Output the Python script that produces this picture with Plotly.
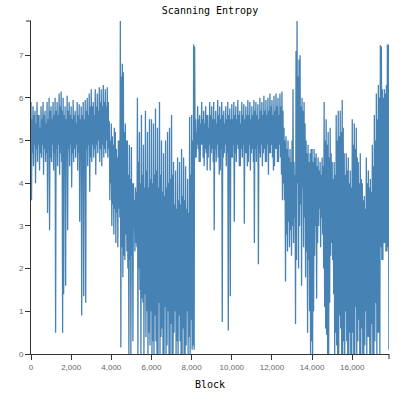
import plotly.graph_objects as go

TITLE = "Scanning Entropy"
X_TITLE = "Block"
BIN = 50  # each bin of 50 blocks contributes its high and its low reading

# ---- highest / lowest entropy read in each 50-block bin ----
high_a = [5.9, 5.5, 5.8, 5.6, 5.7, 5.4, 5.9, 5.6, 5.6, 5.3, 5.8, 5.5, 5.9, 5.6, 5.7, 5.4, 5.9, 5.5, 6.0, 5.7,
          5.8, 5.5, 5.9, 5.6, 6.0, 5.7, 5.9, 5.6, 6.1, 5.8, 6.15, 5.7, 6.0, 5.6, 5.8, 5.5, 6.05, 5.7, 5.9, 5.6,
          5.8, 5.5, 5.95, 5.6, 5.7, 5.4, 5.9, 5.6, 5.85, 5.5, 5.8, 5.6, 5.9, 5.5, 5.95, 5.7, 6.0, 5.6, 6.1, 5.8,
          6.2, 5.8, 5.9, 5.6, 6.2, 5.8, 6.1, 5.7, 6.25, 5.9, 6.2, 5.8, 6.3, 5.9, 6.2, 5.8, 6.25, 5.9]
low_a = [3.6, 4.7, 4.4, 4.9, 4.0, 4.8, 4.5, 4.9, 4.3, 4.7, 4.6, 4.9, 4.2, 4.8, 4.5, 4.7, 3.3, 4.8, 2.9, 4.6,
         4.5, 4.9, 4.3, 4.7, 0.5, 4.8, 4.4, 4.9, 4.2, 4.7, 4.5, 0.5, 1.4, 4.8, 1.6, 4.6, 2.9, 4.8, 4.4, 4.9,
         3.9, 4.7, 4.5, 4.8, 4.6, 4.9, 4.3, 4.7, 3.1, 4.8, 0.9, 4.6, 1.35, 4.7, 1.2, 4.8, 4.4, 4.9, 3.8, 4.6,
         4.5, 4.9, 4.6, 4.8, 4.2, 4.9, 4.7, 5.0, 4.5, 4.8, 4.4, 4.9, 4.6, 4.8, 4.7, 5.0, 4.6, 4.8]
high_b = [5.45, 5.0, 5.4, 5.1, 4.9, 5.3, 5.2, 4.8, 4.6, 5.0, 5.0, 7.8, 6.5, 6.8, 6.6, 5.2, 5.4, 5.0]
low_b = [3.6, 4.0, 3.0, 3.5, 2.8, 3.4, 2.6, 3.3, 2.5, 3.4, 3.2, 0.15, 2.5, 1.8, 2.3, 2.2, 2.8, 2.4]
high_c = [5.0, 4.2, 4.9, 4.1, 4.85, 4.0, 4.0, 3.6, 3.9, 3.8, 6.0, 4.5, 5.2, 4.0, 5.6, 4.2, 4.9, 3.9, 5.7, 4.3,
          5.2, 3.9, 5.5, 4.1, 5.5, 4.0, 5.4, 4.2, 5.75, 4.3, 5.3, 3.9, 5.9, 4.2, 5.0, 3.8, 4.7, 3.7, 5.0, 3.9,
          5.2, 4.0, 5.3, 4.1, 5.6, 4.2, 4.5, 3.5, 4.3, 3.4, 4.6, 3.6, 4.5, 3.5, 4.8, 3.7, 4.6, 3.6, 4.4, 3.4,
          4.1, 3.3, 5.55, 4.2, 5.6, 5.0, 7.25, 7.2]
low_c = [2.0, 0.0, 2.2, 0.0, 2.3, 0.3, 3.0, 2.4, 2.6, 2.5, 0.0, 2.0, 1.5, 0.0, 1.3, 1.2, 0.0, 1.4, 0.4, 1.0,
         0.0, 0.5, 0.2, 1.0, 0.0, 0.3, 0.0, 0.9, 0.3, 0.0, 0.0, 1.2, 0.0, 0.4, 0.6, 0.0, 0.0, 1.1, 0.0, 0.2,
         1.0, 0.0, 0.0, 0.7, 0.0, 0.0, 0.5, 1.0, 0.0, 0.3, 0.0, 0.9, 0.3, 0.0, 0.0, 0.6, 0.0, 0.0, 0.2, 1.0,
         0.0, 0.4, 0.0, 0.8, 0.1, 0.2, 0.1, 4.6]
high_d = [5.5, 5.2, 5.8, 5.5, 5.6, 5.4, 5.9, 5.5, 5.7, 5.4, 5.8, 5.6, 5.6, 5.3, 5.9, 5.6, 5.8, 5.5, 5.9, 5.5,
          5.7, 5.4, 5.95, 5.6, 5.8, 5.5, 5.9, 5.6, 5.7, 5.4, 5.8, 5.5, 5.9, 5.6, 5.75, 5.5, 5.85, 5.5, 5.9, 5.6,
          5.8, 5.5, 5.95, 5.6, 5.7, 5.4, 5.9, 5.6, 5.85, 5.5, 5.8, 5.6, 5.95, 5.6, 5.9, 5.5, 5.8, 5.6, 5.95, 5.7,
          5.9, 5.6, 5.85, 5.5, 6.0, 5.7, 5.9, 5.6, 6.05, 5.7, 5.95, 5.6, 6.0, 5.7, 6.1, 5.8, 5.95, 5.6, 6.05, 5.7,
          6.1, 5.8, 6.0, 5.6, 6.1, 5.8, 6.15, 5.7]
low_d = [4.6, 4.9, 4.8, 4.5, 4.5, 4.9, 4.9, 4.6, 4.4, 4.8, 4.7, 4.3, 4.6, 4.9, 4.3, 4.7, 4.8, 4.5, 2.9, 4.8,
         4.5, 4.9, 4.6, 4.2, 4.3, 4.8, 0.75, 4.6, 4.7, 4.9, 4.4, 4.7, 0.55, 4.8, 1.35, 4.6, 4.6, 4.9, 3.1, 4.7,
         4.5, 4.9, 4.8, 4.4, 4.4, 4.8, 4.6, 4.9, 3.05, 4.7, 4.7, 4.4, 4.5, 4.9, 4.3, 4.7, 4.8, 4.5, 2.6, 4.8,
         4.5, 4.9, 2.1, 4.7, 4.6, 4.9, 4.4, 4.7, 4.8, 4.5, 4.5, 4.9, 4.2, 4.7, 4.7, 4.9, 4.6, 4.3, 4.4, 4.8,
         4.8, 4.5, 4.5, 4.9, 4.6, 4.2, 3.6, 4.0]
high_e = [5.3, 5.0, 5.1, 4.8, 5.0, 4.6, 4.8, 4.5, 5.0, 6.2, 4.5, 4.2, 7.1, 7.8, 6.5, 6.9, 7.0, 5.8, 6.0, 5.7,
          5.9, 5.4, 5.0, 4.7, 4.9, 4.5, 4.7, 4.8]
low_e = [3.6, 1.7, 2.8, 2.4, 3.1, 2.5, 2.9, 2.3, 3.0, 2.6, 3.2, 0.7, 2.2, 4.0, 2.0, 3.0, 3.5, 1.6, 3.9, 2.5,
         3.2, 1.8, 2.4, 0.5, 2.2, 1.0, 0.0, 0.3]
high_f = [4.8, 4.5, 4.8, 4.6, 4.7, 4.4, 4.6, 4.3, 4.5, 4.2, 4.6, 4.4, 5.9, 5.0, 5.5, 4.9, 5.2, 4.6, 5.3, 4.7,
          4.5, 4.1, 4.5, 4.2, 5.6, 5.0, 5.7, 5.1, 5.7, 5.2, 5.95, 5.3, 4.7, 4.2, 4.7, 4.3, 4.6, 4.0, 4.3, 3.9,
          5.5, 4.9, 5.4, 4.8, 5.3, 4.6, 4.5, 4.0, 4.7, 4.1, 4.0, 3.6, 3.7, 3.4, 4.6, 4.0, 4.3, 3.9, 4.1, 3.8,
          4.9, 4.4, 5.6, 5.0, 6.1, 5.5, 6.3, 6.0, 7.23, 7.2, 6.2, 6.0, 6.2, 6.1, 6.3, 7.25, 7.25]
low_f = [0.0, 1.0, 2.3, 3.0, 1.3, 2.6, 3.0, 3.4, 2.5, 3.2, 2.8, 2.0, 1.1, 0.6, 0.45, 0.0, 0.0, 1.2, 2.3, 2.6,
         2.2, 1.4, 0.0, 0.5, 0.2, 0.0, 0.0, 0.9, 0.6, 0.0, 0.0, 0.3, 0.0, 1.0, 0.3, 0.0, 0.0, 0.5, 0.0, 0.0,
         0.5, 0.0, 0.0, 1.1, 0.0, 0.3, 0.8, 0.0, 0.0, 0.6, 0.0, 0.0, 0.2, 1.0, 0.0, 0.4, 0.4, 0.0, 0.0, 0.7,
         0.0, 0.0, 0.3, 1.2, 0.0, 0.5, 0.5, 0.0, 2.5, 2.2, 2.2, 2.6, 2.6, 2.4, 2.4, 2.5, 0.1]

highs = high_a + high_b + high_c + high_d + high_e + high_f
lows = low_a + low_b + low_c + low_d + low_e + low_f
assert len(highs) == len(lows), (len(highs), len(lows))

# each bin: its high at the bin start, its low half a bin later
blocks, entropy = [], []
for i, (h, l) in enumerate(zip(highs, lows)):
    blocks += [i * BIN, i * BIN + BIN // 2]
    entropy += [h, l]

X_MAX = 17830
Y_MAX = 7.8
x_ticks = [0, 2000, 4000, 6000, 8000, 10000, 12000, 14000, 16000]
x_tick_text = ["0", "2,000", "4,000", "6,000", "8,000", "10,000", "12,000", "14,000", "16,000"]
y_ticks = [0, 1, 2, 3, 4, 5, 6, 7]

fig = go.Figure()
fig.add_trace(go.Scatter(x=blocks, y=entropy, mode="lines",
                         line=dict(color="#4682b4", width=1.3, simplify=False),
                         hoverinfo="skip"))

axis_common = dict(showgrid=False, zeroline=False, showline=True, linecolor="#333",
                   linewidth=1, ticks="outside", ticklen=5, tickcolor="#333",
                   automargin=False,
                   tickfont=dict(family="Liberation Sans, Arial, sans-serif", size=8, color="#666"))

fig.update_layout(
    width=412, height=397,
    margin=dict(l=31, r=23, t=21, b=43, autoexpand=False),
    paper_bgcolor="white", plot_bgcolor="white",
    showlegend=False,
    title=dict(text=TITLE, x=0.5, xref="paper", xanchor="center",
               y=1 - 10 / 397, yref="container", yanchor="middle",
               font=dict(family="DejaVu Sans Mono, monospace", size=10, color="#000")),
    xaxis=dict(range=[0, X_MAX], tickvals=x_ticks, ticktext=x_tick_text,
               title=dict(text=X_TITLE, standoff=10,
                          font=dict(family="DejaVu Sans Mono, monospace", size=10, color="#000")),
               **axis_common),
    yaxis=dict(range=[0, Y_MAX], tickvals=y_ticks, **axis_common),
)

# outer ticks at the far ends of the axis domains
fig.add_shape(type="line", xref="paper", yref="paper", xsizemode="pixel", xanchor=0,
              x0=-5, x1=0, y0=1, y1=1, line=dict(color="#333", width=1))
fig.add_shape(type="line", xref="paper", yref="paper", ysizemode="pixel", yanchor=0,
              x0=1, x1=1, y0=-5, y1=0, line=dict(color="#333", width=1))

fig.write_html("out.html", config={"displayModeBar": False},
               post_script="document.body.style.margin='0';")
